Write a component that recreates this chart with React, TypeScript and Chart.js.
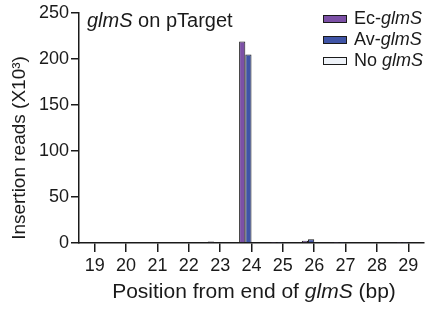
import React, { useEffect, useRef } from "react";
import { Chart, registerables } from "chart.js";

Chart.register(...registerables);

const positions = ["19", "20", "21", "22", "23", "24", "25", "26", "27", "28", "29"];
const ecGlmS = [0, 0, 0, 0, 1.6, 219, 0.3, 2.5, 0.2, 0, 0.3];
const avGlmS = [0, 0, 0, 0, 1.0, 205, 0.2, 4.0, 0.2, 0, 0.2];
const noGlmS = [0, 0, 0, 0, 0, 0, 0, 0, 0, 0, 0];
const yTicks = [0, 50, 100, 150, 200, 250];

const FONT = '"Liberation Sans", Arial, Helvetica, sans-serif';
const INK = "#1a1a1a";

type Run = { t: string; i?: boolean };

function drawRuns(ctx: CanvasRenderingContext2D, runs: Run[], x: number, y: number, align: "left" | "center", size: number) {
  const fontOf = (r: Run) => `${r.i ? "italic " : ""}${size}px ${FONT}`;
  let total = 0;
  for (const r of runs) {
    ctx.font = fontOf(r);
    total += ctx.measureText(r.t).width;
  }
  let cx = align === "center" ? x - total / 2 : x;
  ctx.textBaseline = "middle";
  ctx.textAlign = "left";
  ctx.fillStyle = INK;
  for (const r of runs) {
    ctx.font = fontOf(r);
    ctx.fillText(r.t, cx, y);
    cx += ctx.measureText(r.t).width;
  }
}

const textPlugin = {
  id: "textPlugin",
  afterDraw(chart: any) {
    const ctx: CanvasRenderingContext2D = chart.ctx;
    const area = chart.chartArea;
    ctx.save();
    // in-chart title
    drawRuns(ctx, [{ t: "glmS", i: true }, { t: " on pTarget" }], area.left + 8, 21, "left", 20);
    // x axis title
    drawRuns(
      ctx,
      [{ t: "Position from end of " }, { t: "glmS", i: true }, { t: " (bp)" }],
      254,
      292,
      "center",
      21
    );
    // y axis title
    ctx.save();
    ctx.translate(20, 148);
    ctx.rotate(-Math.PI / 2);
    drawRuns(ctx, [{ t: "Insertion reads (X10³)" }], 0, 0, "center", 19);
    ctx.restore();
    // legend
    const items: { runs: Run[]; ds: number }[] = [
      { runs: [{ t: "Ec-" }, { t: "glmS", i: true }], ds: 0 },
      { runs: [{ t: "Av-" }, { t: "glmS", i: true }], ds: 1 },
      { runs: [{ t: "No " }, { t: "glmS", i: true }], ds: 2 },
    ];
    items.forEach((it, k) => {
      const cy = 19 + k * 21;
      const d = chart.data.datasets[it.ds];
      ctx.fillStyle = d.backgroundColor;
      ctx.fillRect(323, cy - 4, 24, 8);
      ctx.strokeStyle = INK;
      ctx.lineWidth = 1;
      ctx.strokeRect(323.5, cy - 3.5, 23, 7);
      drawRuns(ctx, it.runs, 354, cy, "left", 18);
    });
    ctx.restore();
  },
};

export default function App() {
  const ref = useRef<HTMLCanvasElement | null>(null);
  useEffect(() => {
    document.body.style.margin = "0";
    const canvas = ref.current!;
    const chart = new Chart(canvas, {
      type: "bar",
      data: {
        labels: positions,
        datasets: [
          { label: "Ec-glmS", data: ecGlmS, backgroundColor: "#7C50A6", borderColor: INK, borderWidth: 1 },
          { label: "Av-glmS", data: avGlmS, backgroundColor: "#3F54A6", borderColor: INK, borderWidth: 1 },
          { label: "No glmS", data: noGlmS, backgroundColor: "#EEF2F8", borderColor: INK, borderWidth: 1 },
          { label: "", data: positions.map(() => null), backgroundColor: "transparent", borderWidth: 0 },
        ],
      },
      options: {
        responsive: false,
        animation: false,
        maintainAspectRatio: false,
        layout: { padding: { top: 13, right: 2, left: 0, bottom: 0 } },
        datasets: { bar: { barPercentage: 1, categoryPercentage: 0.79 } },
        plugins: { legend: { display: false }, tooltip: { enabled: false }, title: { display: false } },
        scales: {
          x: {
            type: "category",
            offset: true,
            grid: { display: true, drawOnChartArea: false, offset: false, tickLength: 9, color: INK, lineWidth: 1.5 },
            border: { display: true, color: INK, width: 1.5 },
            ticks: { color: INK, font: { family: FONT, size: 18 }, padding: 3, maxRotation: 0, autoSkip: false },
            afterFit: (s: any) => {
              s.height = 67;
            },
          },
          y: {
            min: 0,
            max: 250,
            afterBuildTicks: (s: any) => {
              s.ticks = yTicks.map((v) => ({ value: v }));
            },
            grid: { display: true, drawOnChartArea: false, tickLength: 8, color: INK, lineWidth: 1.5 },
            border: { display: true, color: INK, width: 1.5 },
            ticks: { color: INK, font: { family: FONT, size: 18 }, padding: 2 },
            afterFit: (s: any) => {
              s.width = 79;
            },
          },
        },
      },
      plugins: [textPlugin],
    } as any);
    return () => chart.destroy();
  }, []);
  return (
    <div style={{ width: 426, height: 310 }}>
      <canvas ref={ref} width={426} height={310} style={{ display: "block", width: 426, height: 310 }} />
    </div>
  );
}
